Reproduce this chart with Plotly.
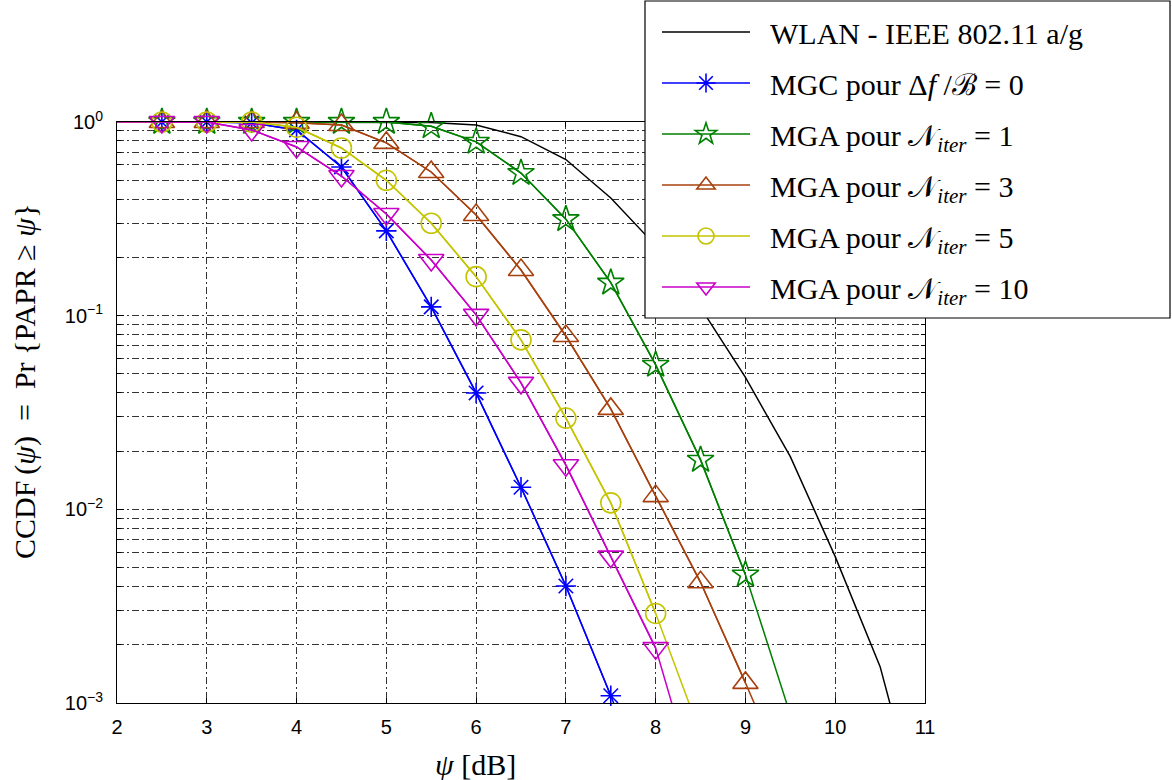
import plotly.graph_objects as go

# ---------------- data ----------------
psi = [2.0, 2.5, 3.0, 3.5, 4.0, 4.5, 5.0, 5.5, 6.0, 6.5, 7.0, 7.5, 8.0, 8.5, 9.0, 9.5, 10.0, 10.5, 11.0]

wlan = [1.0, 1.0, 1.0, 1.0, 1.0, 1.0, 1.0, 0.995, 0.965, 0.84, 0.64, 0.405, 0.23, 0.11,
        0.048, 0.0187, 0.0057, 0.00154, 0.00021]
mgc = [1.0, 1.0, 1.0, 0.99, 0.91, 0.586, 0.274, 0.111, 0.0399, 0.0130, 0.00402, 0.00109, 0.00028]
mga1 = [1.0, 1.0, 1.0, 1.0, 1.0, 1.0, 1.0, 0.95, 0.79, 0.545, 0.315, 0.148, 0.0557, 0.018,
        0.0046, 0.00087]
mga3 = [1.0, 1.0, 1.0, 1.0, 0.99, 0.965, 0.78, 0.552, 0.331, 0.172, 0.0785, 0.033, 0.0117,
        0.0042, 0.00127, 0.00037]
mga5 = [1.0, 1.0, 1.0, 1.0, 0.94, 0.734, 0.50, 0.30, 0.159, 0.075, 0.0296, 0.0108, 0.0029,
        0.00069]
mga10 = [1.0, 1.0, 1.0, 0.91, 0.743, 0.526, 0.335, 0.194, 0.101, 0.045, 0.0169, 0.0057,
         0.00192, 0.00031]

NB = "\u00a0"
names = [
    NB * 2 + "WLAN - IEEE 802.11 a/g",
    NB * 2 + "MGC pour Δ<i>f</i> /ℬ = 0",
    NB * 2 + "MGA pour 𝒩<sub><i>iter</i></sub> = 1",
    NB * 2 + "MGA pour 𝒩<sub><i>iter</i></sub> = 3",
    NB * 2 + "MGA pour 𝒩<sub><i>iter</i></sub> = 5",
    NB * 2 + "MGA pour 𝒩<sub><i>iter</i></sub> = 10",
]

x_ticks = [2, 3, 4, 5, 6, 7, 8, 9, 10, 11]
y_major = [1e-3, 1e-2, 1e-1, 1e0]
y_major_text = ["10<sup>−3</sup>", "10<sup>−2</sup>", "10<sup>−1</sup>", "10<sup>0</sup>"]
y_minor = [m * 10 ** e for e in (-3, -2, -1) for m in range(2, 10)]
Y_MIN = 1e-3

# ---------------- figure ----------------
fig = go.Figure()

fig.add_trace(go.Scatter(x=psi, y=wlan, mode="lines", name=names[0],
                         line=dict(color="black", width=1.5), legendgroup="g0"))

series = [
    (mgc, names[1], "#0000FF", "asterisk-open", 17),
    (mga1, names[2], "#008000", "star-open", 20),
    (mga3, names[3], "#A8400E", "triangle-up-open", 22),
    (mga5, names[4], "#C4C400", "circle-open", 20),
    (mga10, names[5], "#C800C8", "triangle-down-open", 22),
]

for i, (vals, nm, col, sym, sz) in enumerate(series):
    xs = psi[:len(vals)]
    # full curve (clipped to the axes), starting at psi = 2 without a marker
    fig.add_trace(go.Scatter(x=xs, y=vals, mode="lines", showlegend=False,
                             line=dict(color=col, width=1.5), hoverinfo="skip",
                             legendgroup=f"g{i+1}"))
    # markers for the points that lie inside the axes (not clipped at the frame)
    mx = [x for x, v in zip(xs[1:], vals[1:]) if v >= Y_MIN]
    my = [v for v in vals[1:] if v >= Y_MIN]
    fig.add_trace(go.Scatter(x=mx, y=my, mode="lines+markers", name=nm,
                             line=dict(color=col, width=1.5), cliponaxis=False,
                             marker=dict(symbol=sym, size=sz, color=col,
                                         line=dict(color=col, width=1.6)),
                             legendgroup=f"g{i+1}"))

grid_dash = "7px,3px,2px,3px"
tick_font = dict(family="Liberation Sans, Arial, sans-serif", size=20, color="black")

fig.update_xaxes(
    range=[2, 11], tickmode="array", tickvals=x_ticks,
    ticks="inside", ticklen=5, tickcolor="black", ticklabelstandoff=6,
    showgrid=True, gridcolor="#333333", gridwidth=1, griddash=grid_dash,
    showline=True, linecolor="black", linewidth=1, mirror="ticks",
    zeroline=False, tickfont=tick_font,
)
fig.update_yaxes(
    type="log", range=[-3, 0], tickmode="array", tickvals=y_major, ticktext=y_major_text,
    ticks="inside", ticklen=7, tickcolor="black", ticklabelstandoff=9,
    showgrid=True, gridcolor="#333333", gridwidth=1, griddash=grid_dash,
    minor=dict(tickmode="array", tickvals=y_minor, ticks="inside", ticklen=4,
               tickcolor="black", showgrid=True, gridcolor="#333333", gridwidth=1,
               griddash=grid_dash),
    showline=True, linecolor="black", linewidth=1, mirror="ticks",
    zeroline=False, tickfont=tick_font,
)

L, R, T, B = 117, 925, 122, 703
W, H = 1172, 780
pw, ph = R - L, B - T


def px_x(p):
    return (p - L) / pw


def px_y(p):
    return (B - p) / ph


# legend frame (drawn over the curves like the original)
fig.add_shape(type="rect", xref="paper", yref="paper",
              x0=px_x(645), x1=px_x(1170), y0=px_y(318), y1=px_y(1),
              fillcolor="white", line=dict(color="black", width=1.2), layer="above")

serif = "Liberation Serif, DejaVu Serif, serif"

ylab = ("CCDF" + "\u2009" + "(<i>ψ</i>)" + NB * 2 + "=" + NB * 2 + "Pr" + NB + "{PAPR"
        + NB + "≥" + NB + "<i>ψ</i>}")
fig.add_annotation(text=ylab, xref="paper", yref="paper",
                   x=px_x(25), y=px_y(382), textangle=-90, showarrow=False,
                   font=dict(family=serif, size=30, color="black"),
                   xanchor="center", yanchor="middle")
fig.add_annotation(text="<i>ψ</i>" + NB + "[dB]", xref="paper", yref="paper",
                   x=px_x(475), y=px_y(764), showarrow=False,
                   font=dict(family=serif, size=30, color="black"),
                   xanchor="center", yanchor="middle")

fig.update_layout(
    width=W, height=H,
    margin=dict(l=L, r=W - R, t=T, b=H - B, pad=0, autoexpand=False),
    paper_bgcolor="white", plot_bgcolor="white",
    showlegend=True,
    legend=dict(x=px_x(657), y=px_y(6), xanchor="left", yanchor="top",
                bgcolor="rgba(0,0,0,0)", borderwidth=0,
                font=dict(family=serif, size=30, color="black"),
                traceorder="grouped", tracegroupgap=9, itemwidth=88),
)

fig.write_html("out.html", config={"displayModeBar": False},
               post_script="document.body.style.margin='0px';")
